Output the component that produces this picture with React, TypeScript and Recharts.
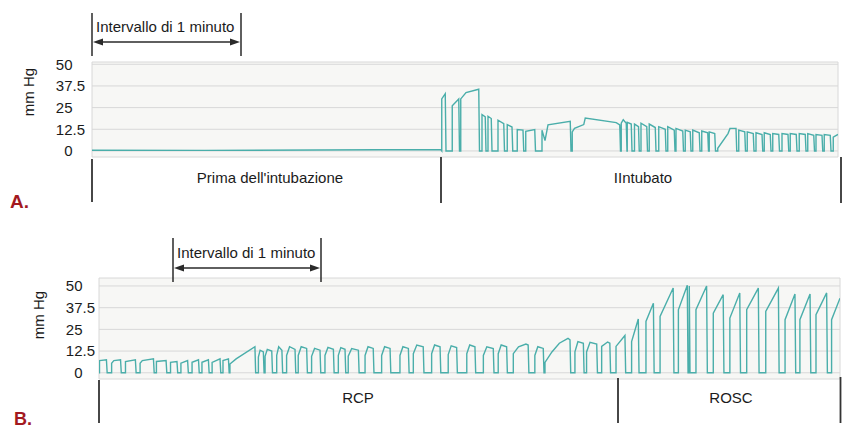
import React from "react";
import { CartesianGrid, Line, LineChart, XAxis, YAxis } from "recharts";

// time in seconds, CO2 in mm Hg
type Pt = [number, number];

const yTicks = [0, 12.5, 25, 37.5, 50];

// panel A: before / after intubation
const endA = 298.4;
const minuteTicksA = [0, 60, 120, 180, 240, 298.4];
const leadA: Pt[] = [
  [0, 0.4],
  [45, 0.3],
  [90, 0.5],
  [139.5, 0.8],
];
const breathsA: Pt[][] = [
  [[139.9, 30], [141.3, 33]],
  [[144.1, 26], [146.7, 30]],
  [[147.5, 30], [149.6, 33.7], [154.7, 35.6]],
  [[156, 21], [157.3, 19.6]],
  [[158.4, 20], [159.7, 18.7]],
  [[162.4, 17.7], [164.7, 15.8]],
  [[166.1, 15.2], [168, 13.8]],
  [[170.1, 12.3], [172.4, 12]],
  [[173.5, 11.3], [177.1, 12.3]],
  [[180, 12], [181.2, 6], [182.4, 15], [191.3, 17.1]],
  [[192.1, 11], [193, 13], [196.7, 15.2], [197.3, 19], [209.7, 16.3], [211.1, 15]],
  [[211.7, 16], [212.5, 18], [213.7, 16]],
  [[214.1, 16.5], [215.7, 15.5]],
  [[217, 15.5], [218.6, 14]],
  [[219.6, 16], [221.9, 14]],
  [[222.9, 15.5], [225.3, 13.5]],
  [[226.7, 14], [229.3, 12.5]],
  [[230.3, 14], [232.9, 12]],
  [[233.6, 13], [236.3, 11.5]],
  [[237.3, 12], [239.3, 11]],
  [[240.3, 12], [242.9, 10.5]],
  [[243.9, 11.5], [246.3, 10.5]],
  [[246.9, 11], [249.1, 10]],
  [[250.3, 1.5], [254.4, 10], [255.2, 13], [257.6, 13]],
  [[258.7, 12], [261.1, 11]],
  [[262.1, 11], [264.5, 10]],
  [[265.6, 10.5], [268, 9.5]],
  [[268.9, 10.5], [271.3, 9.5]],
  [[272.3, 10], [274.7, 9.5]],
  [[276, 10], [278.4, 9.5]],
  [[279.3, 10], [281.7, 9.5]],
  [[282.9, 10], [285.3, 9.5]],
  [[286.3, 10], [288.7, 9]],
  [[289.6, 9.5], [292, 9]],
  [[292.9, 9.5], [295.3, 9]],
  [[296.5, 8], [298.4, 9.5]],
];

// panel B: CPR then ROSC
const endB = 299.4;
const minuteTicksB = [30, 90, 150, 210, 270];
const leadB: Pt[] = [[0, 0]];
const breathsB: Pt[][] = [
  [[0.2, 7], [3, 7.5]],
  [[5.1, 5.5], [6, 7], [8.7, 7.5]],
  [[10.7, 6.5], [14.7, 7.5]],
  [[16.6, 5.5], [17.5, 7], [22, 8]],
  [[23.2, 6.5], [27.1, 7]],
  [[28.9, 6], [31.5, 6.5]],
  [[33.1, 5.5], [35.8, 7]],
  [[37.6, 6], [40.2, 7.5]],
  [[41.6, 6], [44.2, 7.5]],
  [[45.7, 6], [48.9, 8]],
  [[50.1, 7], [52.3, 8]],
  [[52.9, 5], [55.4, 8], [63, 15]],
  [[64.4, 9], [65.1, 13], [66.4, 12]],
  [[67.1, 9.5], [68, 13.5], [69.8, 12.5]],
  [[71.8, 10], [72.6, 15], [73.9, 13]],
  [[75.8, 10], [77, 15], [79.2, 13.5]],
  [[80.5, 10], [81.7, 15], [83.9, 14]],
  [[85.9, 9.5], [87.1, 14], [89.3, 13]],
  [[91.3, 10], [92.5, 14.6], [94.7, 13.5]],
  [[96.7, 10], [97.7, 14.5], [99.4, 13.5]],
  [[100.7, 9.5], [102.1, 14], [104.8, 13]],
  [[107.5, 10], [108.7, 15], [110.8, 14]],
  [[114.2, 10], [115.4, 15], [117.6, 14]],
  [[121.6, 10], [122.8, 15], [125, 14]],
  [[127, 11], [128.4, 16], [131, 15]],
  [[134.4, 11], [135.6, 16], [137.8, 15]],
  [[141.1, 10.5], [142.3, 15.5], [144.5, 14.5]],
  [[148.6, 11], [149.8, 16], [151.9, 15]],
  [[155.3, 10], [156.7, 15], [159.3, 14]],
  [[161.3, 11], [162.5, 16], [164.7, 15]],
  [[167.4, 11], [169.5, 15], [172.5, 16.5], [173.4, 16]],
  [[176.1, 10], [177.3, 15], [179.5, 14]],
  [[180.2, 6], [183, 12], [186, 17], [189.5, 19.8], [190.3, 19]],
  [[192.3, 12], [193.5, 17.9], [195.7, 17]],
  [[197, 12], [198.4, 17.5], [201.1, 16.5]],
  [[203.1, 15.2], [205.5, 17.7], [206.4, 17]],
  [[208.9, 15.2], [212.5, 21.5]],
  [[215.2, 18], [217.9, 31]],
  [[221, 29.6], [224, 40]],
  [[226.7, 32.5], [232, 48.8]],
  [[234.1, 36.3], [237.7, 50.4]],
  [[238.5, 50]],
  [[241.2, 36.3], [245.5, 50]],
  [[248.2, 34.4], [252.2, 45]],
  [[254.9, 31.5], [258.9, 46]],
  [[261.7, 36.3], [266.4, 48.8]],
  [[269.4, 35.4], [274.5, 48.8]],
  [[277.2, 30.6], [281.2, 45.4]],
  [[283.2, 30.6], [287.3, 45.4]],
  [[289.7, 33.5], [294, 46]],
  [[296, 30.6], [299.4, 43]],
];

function buildTrace(lead: Pt[], breaths: Pt[][], end: number) {
  const out = lead.map(([t, v]) => ({ t, v }));
  breaths.forEach((b) => {
    const t0 = b[0][0];
    const t1 = b[b.length - 1][0];
    out.push({ t: t0, v: 0 });
    b.forEach(([t, v]) => out.push({ t, v }));
    if (t1 < end) out.push({ t: t1 + 0.3, v: 0 });
  });
  return out;
}

const dataA = buildTrace(leadA, breathsA, endA);
const dataB = buildTrace(leadB, breathsB, endB);

const font = "'Liberation Sans', Arial, Helvetica, sans-serif";
const ink = "#1b1b1b";
const trace = "#4aaeaa";

function MmTick(props: any) {
  const { y, payload, labelX } = props;
  const [ip, fp] = String(payload.value).split(".");
  return (
    <text y={y} dy={5.3} fontSize={15} fill={ink} fontFamily={font}>
      <tspan x={labelX} textAnchor="end">
        {ip}
      </tspan>
      {fp ? (
        <tspan x={labelX} textAnchor="start">
          .{fp}
        </tspan>
      ) : null}
    </text>
  );
}

function Capno({
  data,
  end,
  ticks,
  yDomain,
  width,
  height,
  margin,
  labelX,
}: {
  data: { t: number; v: number }[];
  end: number;
  ticks: number[];
  yDomain: [number, number];
  width: number;
  height: number;
  margin: { top: number; right: number; bottom: number; left: number };
  labelX: number;
}) {
  return (
    <LineChart width={width} height={height} data={data} margin={margin}>
      <CartesianGrid stroke="#d8d8d8" fill="#f7f7f5" strokeWidth={1} />
      <XAxis
        dataKey="t"
        type="number"
        domain={[0, end]}
        ticks={ticks}
        interval={0}
        allowDataOverflow
        tick={false}
        tickLine={false}
        axisLine={false}
        height={1}
      />
      <YAxis
        type="number"
        domain={yDomain}
        ticks={yTicks}
        interval={0}
        allowDataOverflow
        axisLine={false}
        tickLine={false}
        width={40}
        tick={<MmTick labelX={labelX} />}
      />
      <Line
        type="linear"
        dataKey="v"
        stroke={trace}
        strokeWidth={1.4}
        dot={false}
        isAnimationActive={false}
      />
    </LineChart>
  );
}

function Bracket({ x1, x2, top, bottom, arrowY, label }: any) {
  return (
    <g>
      <line x1={x1} y1={top} x2={x1} y2={bottom} stroke="#2a2a2a" strokeWidth={1.5} />
      <line x1={x2} y1={top} x2={x2} y2={bottom} stroke="#2a2a2a" strokeWidth={1.5} />
      <line x1={x1 + 8} y1={arrowY} x2={x2 - 8} y2={arrowY} stroke="#2a2a2a" strokeWidth={1.4} />
      <path d={`M${x1 + 1},${arrowY} l10,-3.5 l0,7 z`} fill="#2a2a2a" />
      <path d={`M${x2 - 1},${arrowY} l-10,-3.5 l0,7 z`} fill="#2a2a2a" />
      <text x={x1 + 4} y={arrowY - 10.5} fontSize={15} fill={ink} fontFamily={font}>
        {label}
      </text>
    </g>
  );
}

function Sep({ x, y1, y2 }: any) {
  return <line x1={x} y1={y1} x2={x} y2={y2} stroke="#333" strokeWidth={1.8} />;
}

export default function App() {
  return (
    <div
      style={{
        position: "fixed",
        left: 0,
        top: 0,
        width: 847,
        height: 430,
        background: "#fff",
        overflow: "hidden",
      }}
    >
      <div style={{ position: "absolute", left: 0, top: 0 }}>
        <Capno
          data={dataA}
          end={endA}
          ticks={minuteTicksA}
          yDomain={[-3.5, 51.3]}
          width={847}
          height={165}
          margin={{ top: 62, right: 9, bottom: 7, left: 52 }}
          labelX={72.5}
        />
      </div>
      <div style={{ position: "absolute", left: 0, top: 220 }}>
        <Capno
          data={dataB}
          end={endB}
          ticks={minuteTicksB}
          yDomain={[-3.6, 54.6]}
          width={847}
          height={170}
          margin={{ top: 58, right: 7, bottom: 10, left: 59 }}
          labelX={82.5}
        />
      </div>
      <svg
        width={847}
        height={430}
        style={{ position: "absolute", left: 0, top: 0, pointerEvents: "none" }}
      >
        {/* panel A */}
        <Bracket x1={92} x2={241} top={13} bottom={56} arrowY={42} label="Intervallo di 1 minuto" />
        <text
          transform="translate(34,92) rotate(-90)"
          textAnchor="middle"
          fontSize={15}
          fill={ink}
          fontFamily={font}
        >
          mm Hg
        </text>
        <Sep x={92} y1={159} y2={202} />
        <Sep x={441} y1={157} y2={203} />
        <Sep x={841} y1={157} y2={203} />
        <text x={270} y={183} textAnchor="middle" fontSize={15} fill={ink} fontFamily={font}>
          Prima dell'intubazione
        </text>
        <text x={643} y={183} textAnchor="middle" fontSize={15} fill={ink} fontFamily={font}>
          IIntubato
        </text>
        <text x={10} y={208} fontSize={19} fontWeight="bold" fill="#a3191f" fontFamily={font}>
          A.
        </text>

        {/* panel B */}
        <Bracket x1={173} x2={321} top={238} bottom={282} arrowY={268} label="Intervallo di 1 minuto" />
        <text
          transform="translate(44,315) rotate(-90)"
          textAnchor="middle"
          fontSize={15}
          fill={ink}
          fontFamily={font}
        >
          mm Hg
        </text>
        <Sep x={99} y1={380} y2={423} />
        <Sep x={618} y1={378} y2={423} />
        <Sep x={840.5} y1={377} y2={423} />
        <text x={358} y={403} textAnchor="middle" fontSize={15} fill={ink} fontFamily={font}>
          RCP
        </text>
        <text x={731} y={403} textAnchor="middle" fontSize={15} fill={ink} fontFamily={font}>
          ROSC
        </text>
        <text x={14} y={425} fontSize={18} fontWeight="bold" fill="#a3191f" fontFamily={font}>
          B.
        </text>
      </svg>
    </div>
  );
}
